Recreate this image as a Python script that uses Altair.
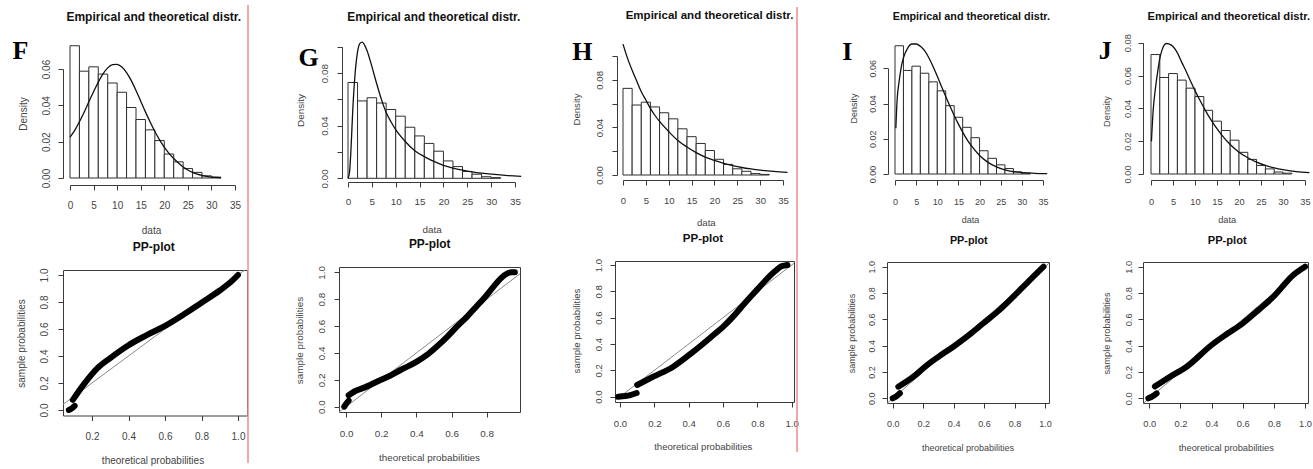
import altair as alt
import pandas as pd

W, H = 1313, 469

# ---------------- data ----------------
bin_left = [0, 2, 4, 6, 8, 10, 12, 14, 16, 18, 20, 22, 24, 26, 28, 30]
bin_right = [2, 4, 6, 8, 10, 12, 14, 16, 18, 20, 22, 24, 26, 28, 30, 32]
bin_density = [0.0728, 0.0588, 0.0612, 0.0572, 0.0523, 0.0472, 0.0388, 0.0322,
               0.0265, 0.0206, 0.0132, 0.0089, 0.0052, 0.0031, 0.0012, 0.0005]

F_curve_x = [0, 1, 2, 3, 4, 5, 6, 7, 8, 9, 10, 11, 12, 13, 14, 15, 16, 17, 18, 19, 20,
             21, 22, 23, 24, 25, 26, 27, 28, 29, 30, 31, 32]
F_curve_y = [0.0225, 0.0262, 0.0310, 0.0362, 0.0420, 0.0475, 0.0528, 0.0573, 0.0606, 0.0624,
             0.0626, 0.0611, 0.0580, 0.0536, 0.0482, 0.0423, 0.0364, 0.0308, 0.0256, 0.0210,
             0.0170, 0.0136, 0.0107, 0.0082, 0.0061, 0.0044, 0.0031, 0.0021, 0.0014, 0.0009,
             0.0005, 0.0003, 0.0001]

G_curve_x = [0, 0.3, 0.6, 1, 1.5, 2, 2.5, 3, 3.5, 4, 5, 6, 7, 8, 9, 10, 12, 14, 16, 18, 20,
             22, 24, 26, 28, 30, 33, 36.3]
G_curve_y = [0.0, 0.004, 0.020, 0.052, 0.080, 0.096, 0.1025, 0.1035, 0.101, 0.097, 0.085,
             0.072, 0.060, 0.050, 0.043, 0.037, 0.028, 0.021, 0.0165, 0.0128, 0.0099, 0.0078,
             0.0062, 0.0049, 0.0039, 0.0031, 0.0022, 0.0015]

H_curve_x = [0, 1, 2, 3, 4, 5, 6, 7, 8, 10, 12, 14, 16, 18, 20, 22, 24, 26, 28, 30, 33, 36]
H_curve_y = [0.110, 0.098, 0.088, 0.079, 0.070, 0.063, 0.056, 0.050, 0.045, 0.0365, 0.0290,
             0.0235, 0.0188, 0.0150, 0.0122, 0.0098, 0.0079, 0.0063, 0.0051, 0.0041, 0.0030,
             0.0022]

I_curve_x = [0.2, 0.5, 1, 1.5, 2, 3, 4, 5, 6, 7, 8, 9, 10, 11, 12, 13, 14, 15, 16, 17, 18,
             20, 22, 24, 26, 28, 30, 33, 36]
I_curve_y = [0.026, 0.042, 0.053, 0.061, 0.066, 0.0715, 0.0738, 0.0738, 0.0725, 0.070, 0.066,
             0.061, 0.0555, 0.0497, 0.0440, 0.0385, 0.0332, 0.0283, 0.0238, 0.0197, 0.0162,
             0.0105, 0.0066, 0.0040, 0.0024, 0.0014, 0.0008, 0.0004, 0.0002]

J_curve_x = [0.1, 0.5, 1, 1.5, 2, 2.5, 3, 3.5, 4, 5, 6, 7, 8, 9, 10, 11, 12, 13, 14, 15, 16,
             18, 20, 22, 24, 26, 28, 30, 33, 36]
J_curve_y = [0.020, 0.039, 0.052, 0.062, 0.0705, 0.0755, 0.0785, 0.0795, 0.0793, 0.0777,
             0.0738, 0.068, 0.0625, 0.0565, 0.0508, 0.0455, 0.0405, 0.0357, 0.0315, 0.0276,
             0.0240, 0.0180, 0.0133, 0.0099, 0.0072, 0.0052, 0.0037, 0.0026, 0.0015, 0.0008]

F_pp_low_x = [0.073, 0.09, 0.105]
F_pp_low_y = [0.0, 0.012, 0.03]
F_pp_x = [0.095, 0.155, 0.23, 0.30, 0.40, 0.50, 0.61, 0.70, 0.80, 0.90, 0.97, 1.00]
F_pp_y = [0.075, 0.19, 0.31, 0.385, 0.48, 0.555, 0.63, 0.705, 0.795, 0.885, 0.96, 1.00]

G_pp_low_x = [-0.01, 0.0, 0.015]
G_pp_low_y = [0.0, 0.02, 0.045]
G_pp_x = [0.015, 0.05, 0.10, 0.19, 0.25, 0.31, 0.40, 0.46, 0.515, 0.575, 0.63, 0.69, 0.74,
          0.79, 0.84, 0.88, 0.915, 0.94, 0.96]
G_pp_y = [0.085, 0.115, 0.14, 0.195, 0.23, 0.273, 0.333, 0.385, 0.446, 0.52, 0.595, 0.672,
          0.744, 0.815, 0.895, 0.955, 0.99, 1.0, 1.0]

H_pp_low_x = [-0.01, 0.03, 0.06, 0.097]
H_pp_low_y = [0.0, 0.005, 0.012, 0.028]
H_pp_x = [0.10, 0.194, 0.31, 0.427, 0.544, 0.60, 0.66, 0.72, 0.80, 0.86, 0.90, 0.94, 0.975]
H_pp_y = [0.089, 0.152, 0.228, 0.342, 0.468, 0.53, 0.61, 0.70, 0.815, 0.90, 0.95, 0.99, 1.0]

I_pp_low_x = [0.0, 0.02, 0.047]
I_pp_low_y = [0.0, 0.012, 0.038]
I_pp_x = [0.037, 0.136, 0.212, 0.30, 0.398, 0.50, 0.595, 0.70, 0.792, 0.90, 0.99]
I_pp_y = [0.088, 0.164, 0.24, 0.315, 0.392, 0.48, 0.57, 0.67, 0.772, 0.898, 1.0]

J_pp_low_x = [-0.006, 0.02, 0.047]
J_pp_low_y = [0.0, 0.015, 0.038]
J_pp_x = [0.036, 0.133, 0.24, 0.40, 0.50, 0.60, 0.70, 0.797, 0.925, 1.0]
J_pp_y = [0.09, 0.164, 0.24, 0.405, 0.49, 0.57, 0.67, 0.772, 0.937, 1.0]

hist_x_ticks = [0, 5, 10, 15, 20, 25, 30, 35]
y_ticks_06 = [0.0, 0.02, 0.04, 0.06]
y_ticks_08 = [0.0, 0.02, 0.04, 0.06, 0.08]
y_ticks_10 = [0.0, 0.02, 0.04, 0.06, 0.08, 0.10]
pp_ticks_all = [0.0, 0.2, 0.4, 0.6, 0.8, 1.0]
pp_ticks_from02 = [0.2, 0.4, 0.6, 0.8, 1.0]
pp_ticks_to08 = [0.0, 0.2, 0.4, 0.6, 0.8]

HIST_TITLE = "Empirical and theoretical distr."
PP_TITLE = "PP-plot"

# ---------------- layout (pixels) ----------------
hist_layout = {
    "F": dict(cx=F_curve_x, cy=F_curve_y, x0=70, x35=235, ybot=178, ytop=69, ymax=0.06,
              yt=y_ticks_06, yaxis=63, xaxis=185, xlab=205, ylab=46, data=(151, 230),
              dens=(23, 113.5), title=(153.3, 16.5), letter=(12, 50), s=1.0, skip=False),
    "G": dict(cx=G_curve_x, cy=G_curve_y, x0=348, x35=515, ybot=178.3, ytop=46.7, ymax=0.10,
              yt=y_ticks_10, yaxis=342, xaxis=182, xlab=201.7, ylab=324, data=(431.7, 229),
              dens=(300, 110), title=(433.3, 16.7), letter=(298, 57), s=0.99, skip=True),
    "H": dict(cx=H_curve_x, cy=H_curve_y, x0=623, x35=783, ybot=175, ytop=56, ymax=0.10,
              yt=y_ticks_10, yaxis=617, xaxis=180, xlab=200, ylab=599, data=(705.8, 222.5),
              dens=(576.7, 109), title=(709, 15), letter=(571.7, 51.5), s=0.96, skip=True),
    "I": dict(cx=I_curve_x, cy=I_curve_y, x0=895, x35=1043, ybot=174, ytop=68.3, ymax=0.06,
              yt=y_ticks_06, yaxis=888, xaxis=180, xlab=201, ylab=872.5, data=(970, 219),
              dens=(853, 108), title=(970.8, 16.7), letter=(841.7, 51.5), s=0.9, skip=False),
    "J": dict(cx=J_curve_x, cy=J_curve_y, x0=1151, x35=1305, ybot=174, ytop=42.7, ymax=0.08,
              yt=y_ticks_08, yaxis=1143, xaxis=180, xlab=201, ylab=1127.5, data=(1226.7, 219),
              dens=(1106.7, 111), title=(1228.3, 16.7), letter=(1098.3, 50.5), s=0.93, skip=False),
}

pp_layout = {
    "F": dict(lx=F_pp_low_x, ly=F_pp_low_y, mx=F_pp_x, my=F_pp_y, bl=63, br=247, bt=270, bb=415.5,
              x0px=55.5, x1px=238, y0px=410, y1px=275, xt=pp_ticks_from02, xlab=436.7,
              xtitle=(152.5, 460), ylab=44, ytitle=(21.7, 343), title=(153.3, 246.7), s=1.0),
    "G": dict(lx=G_pp_low_x, ly=G_pp_low_y, mx=G_pp_x, my=G_pp_y, bl=339, br=520, bt=267, bb=412,
              x0px=346, x1px=521.9, y0px=406.7, y1px=272.3, xt=pp_ticks_to08, xlab=433,
              xtitle=(429, 457.5), ylab=321.7, ytitle=(299, 340), title=(429.2, 243.3), s=0.99),
    "H": dict(lx=H_pp_low_x, ly=H_pp_low_y, mx=H_pp_x, my=H_pp_y, bl=615, br=794, bt=261, bb=402,
              x0px=620, x1px=791.7, y0px=396.7, y1px=265, xt=pp_ticks_all, xlab=423,
              xtitle=(702.7, 446), ylab=598, ytitle=(576, 330.5), title=(702.5, 238.3), s=0.96),
    "I": dict(lx=I_pp_low_x, ly=I_pp_low_y, mx=I_pp_x, my=I_pp_y, bl=887, br=1049, bt=262, bb=403,
              x0px=892.7, x1px=1045, y0px=398.3, y1px=266.7, xt=pp_ticks_all, xlab=423,
              xtitle=(967.5, 447), ylab=871.7, ytitle=(851, 333), title=(968.3, 240), s=0.9),
    "J": dict(lx=J_pp_low_x, ly=J_pp_low_y, mx=J_pp_x, my=J_pp_y, bl=1143, br=1308, bt=262, bb=403,
              x0px=1149.3, x1px=1305, y0px=398.3, y1px=266.7, xt=pp_ticks_all, xlab=423,
              xtitle=(1225.8, 447), ylab=1128, ytitle=(1106.7, 333), title=(1226.7, 240), s=0.93),
}

red_lines = [(248, 5, 463), (797, 7, 452)]

FONT = "Liberation Sans"
SERIF = "Liberation Serif"
LINE = "#3a3a3a"
TXT = "#444444"
TITLE_C = "#111111"


def ax(**kw):
    base = dict(grid=False, labelFont=FONT, titleFont=FONT, domainColor=LINE, tickColor=LINE,
                labelColor=TXT, titleColor=TXT, labelFlush=False, labelOverlap=False,
                titleFontWeight="normal")
    base.update(kw)
    return alt.Axis(**base)


hist_df = pd.DataFrame({"left": bin_left, "right": bin_right, "density": bin_density})

layers = []
for letter, L in hist_layout.items():
    s = L["s"]
    fs = 10 * s
    xs = alt.Scale(domain=[0, 35], range=[L["x0"], L["x35"]], nice=False, zero=False)
    ys = alt.Scale(domain=[0, L["ymax"]], range=[L["ybot"], L["ytop"]], nice=False, zero=False)
    yax = dict(orient="left", offset=-L["yaxis"], values=L["yt"], format=".2f", tickSize=5,
               labelAngle=-90, labelAlign="center", labelBaseline="middle",
               labelPadding=L["yaxis"] - 5 - L["ylab"], labelFontSize=fs,
               title="Density", titleFontSize=fs, titleAngle=270, titleAlign="center",
               titleBaseline="middle", titleX=L["dens"][0] - L["yaxis"], titleY=L["dens"][1])
    if L["skip"]:
        yax["labelExpr"] = "(round(datum.value*100) % 4 == 0) ? datum.label : ''"
    bars = alt.Chart(hist_df).mark_rect(fill="white", stroke="#2e2e2e", strokeWidth=1).encode(
        x=alt.X("left:Q", scale=xs, axis=ax(
            orient="bottom", offset=L["xaxis"] - H, values=hist_x_ticks, format="d", tickSize=5,
            labelPadding=L["xlab"] - L["xaxis"] - 5, labelBaseline="middle", labelFontSize=fs,
            title="data", titleFontSize=fs, titleX=L["data"][0], titleY=L["data"][1] - L["xaxis"],
            titleBaseline="middle", titleAlign="center")),
        x2="right:Q",
        y=alt.Y("density:Q", scale=ys, axis=ax(**yax)),
        y2=alt.datum(0),
    )
    cdf = pd.DataFrame({"x": L["cx"], "y": L["cy"]})
    curve = alt.Chart(cdf).mark_line(color="#111111", strokeWidth=1.3, interpolate="monotone").encode(
        x=alt.X("x:Q", scale=xs, axis=ax(
            orient="top", offset=0, domain=False, ticks=False, labels=False, title=HIST_TITLE,
            titleFontSize=12 * s, titleFontWeight="bold", titleColor=TITLE_C,
            titleX=L["title"][0], titleY=L["title"][1], titleBaseline="middle",
            titleAlign="center")),
        y=alt.Y("y:Q", scale=ys, axis=ax(
            orient="left", offset=0, domain=False, ticks=False, labels=False, title=letter,
            titleFont=SERIF, titleFontSize=26, titleFontWeight="bold", titleColor="black",
            titleAngle=0, titleAlign="left", titleBaseline="middle",
            titleX=L["letter"][0], titleY=L["letter"][1])),
    )
    layers += [bars, curve]

for letter, P in pp_layout.items():
    s = P["s"]
    fs = 10 * s
    xdom = [(P["bl"] - P["x0px"]) / (P["x1px"] - P["x0px"]),
            (P["br"] - P["x0px"]) / (P["x1px"] - P["x0px"])]
    ydom = [(P["bb"] - P["y0px"]) / (P["y1px"] - P["y0px"]),
            (P["bt"] - P["y0px"]) / (P["y1px"] - P["y0px"])]
    xs = alt.Scale(domain=xdom, range=[P["bl"], P["br"]], nice=False, zero=False)
    ys = alt.Scale(domain=ydom, range=[P["bb"], P["bt"]], nice=False, zero=False)
    lo = max(xdom[0], ydom[0])
    hi = min(xdom[1], ydom[1])
    ddf = pd.DataFrame({"x": [lo, hi], "y": [lo, hi]})
    diag = alt.Chart(ddf).mark_line(color="#8a8a8a", strokeWidth=1).encode(
        x=alt.X("x:Q", scale=xs, axis=ax(
            orient="top", offset=-P["bt"], ticks=False, labels=False, domain=True,
            title=PP_TITLE, titleFontSize=12 * s, titleFontWeight="bold", titleColor=TITLE_C,
            titleX=P["title"][0], titleY=P["title"][1] - P["bt"], titleBaseline="middle",
            titleAlign="center")),
        y=alt.Y("y:Q", scale=ys, axis=ax(
            orient="right", offset=P["br"] - W, ticks=False, labels=False, domain=True,
            title=None)),
    )
    pdf = pd.concat([
        pd.DataFrame({"x": P["lx"], "y": P["ly"], "seg": "low"}),
        pd.DataFrame({"x": P["mx"], "y": P["my"], "seg": "main"}),
    ], ignore_index=True)
    band = alt.Chart(pdf).mark_line(color="black", strokeWidth=6, interpolate="monotone",
                                    strokeCap="round", strokeJoin="round").encode(
        x=alt.X("x:Q", scale=xs, axis=ax(
            orient="bottom", offset=P["bb"] - H, values=P["xt"], format=".1f", tickSize=5,
            labelPadding=P["xlab"] - P["bb"] - 5, labelBaseline="middle", labelFontSize=fs,
            title="theoretical probabilities", titleFontSize=fs, titleX=P["xtitle"][0],
            titleY=P["xtitle"][1] - P["bb"], titleBaseline="middle", titleAlign="center")),
        y=alt.Y("y:Q", scale=ys, axis=ax(
            orient="left", offset=-P["bl"], values=pp_ticks_all, format=".1f", tickSize=5,
            labelAngle=-90, labelAlign="center", labelBaseline="middle",
            labelPadding=P["bl"] - 5 - P["ylab"], labelFontSize=fs,
            title="sample probabilities", titleFontSize=fs, titleAngle=270,
            titleAlign="center", titleBaseline="middle",
            titleX=P["ytitle"][0] - P["bl"], titleY=P["ytitle"][1])),
        detail="seg:N",
    )
    layers += [diag, band]

for (rx, ry1, ry2) in red_lines:
    rule = alt.Chart(pd.DataFrame({"k": [0]})).mark_rule(color="#ef8a8a", strokeWidth=1.5).encode(
        x=alt.value(rx), y=alt.value(ry1), y2=alt.value(ry2))
    layers.append(rule)

chart = alt.layer(*layers).resolve_scale(x="independent", y="independent").properties(
    width=W, height=H, padding=0, autosize=alt.AutoSizeParams(type="none"),
    background="white",
).configure_view(strokeWidth=0)

chart.save("out.html", embed_options={"renderer": "svg", "actions": False})
